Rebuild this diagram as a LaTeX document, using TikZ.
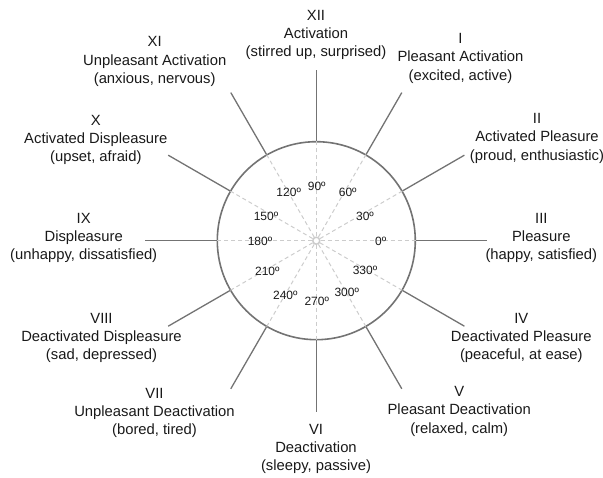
\documentclass[tikz,border=0pt]{standalone}
\usepackage{fontspec}
\setmainfont{Liberation Sans}
\begin{document}
\begin{tikzpicture}[x=1pt,y=1pt,
  lab/.style={align=center,font=\fontsize{14.8}{18.3}\selectfont,text=black!90,inner sep=0},
  deg/.style={font=\fontsize{12}{14}\selectfont,text=black!90,inner sep=0},
  spoke/.style={draw=black!55,line width=1.3},
  guide/.style={draw=black!20,dash pattern=on 4pt off 3pt,line width=1}]
\useasboundingbox (0,0) rectangle (603,478);
\coordinate (o) at (316.3,237.3);
\node[circle,draw=black!55,line width=1.6,minimum size=198,inner sep=0] (ring) at (o) {};
\node[circle,draw=black!20,line width=1.5,minimum size=7,inner sep=0] (hub) at (o) {};
\foreach \a in {0,30,...,330} {
  \path (o) ++(\a:171) coordinate (end\a);
  \draw[guide] (hub.\a) -- (ring.\a);
  \draw[spoke] (ring.\a) -- (end\a);
}
% degree labels
\node[deg] (d90)  at (316.7,291.3) {90º};
\node[deg] (d60)  at (347.7,285.7) {60º};
\node[deg] (d30)  at (365,262) {30º};
\node[deg] (d0)   at (380.7,236.3) {0º};
\node[deg] (d330) at (365,207.3) {330º};
\node[deg] (d300) at (346.7,185.3) {300º};
\node[deg] (d270) at (316.7,176.3) {270º};
\node[deg] (d240) at (285.3,183) {240º};
\node[deg] (d210) at (267.3,206.3) {210º};
\node[deg] (d180) at (260,236.3) {180º};
\node[deg] (d150) at (266,262) {150º};
\node[deg] (d120) at (288.7,285.7) {120º};
% octant labels
\node[lab] (l12) at (316,443) {XII\\Activation\\(stirred up, surprised)};
\node[lab] (l1)  at (460.5,419.7) {I\\Pleasant Activation\\(excited, active)};
\node[lab] (l2)  at (537,339.7) {II\\Activated Pleasure\\(proud, enthusiastic)};
\node[lab] (l3)  at (541.3,240) {III\\Pleasure\\(happy, satisfied)};
\node[lab] (l4)  at (521.3,140) {IV\\Deactivated Pleasure\\(peaceful, at ease)};
\node[lab] (l5)  at (459.2,66.7) {V\\Pleasant Deactivation\\(relaxed, calm)};
\node[lab] (l6)  at (316,29) {VI\\Deactivation\\(sleepy, passive)};
\node[lab] (l7)  at (154.5,65) {VII\\Unpleasant Deactivation\\(bored, tired)};
\node[lab] (l8)  at (101.5,140) {VIII\\Deactivated Displeasure\\(sad, depressed)};
\node[lab] (l9)  at (83.7,240) {IX\\Displeasure\\(unhappy, dissatisfied)};
\node[lab] (l10) at (95.8,338) {X\\Activated Displeasure\\(upset, afraid)};
\node[lab] (l11) at (154.7,416.3) {XI\\Unpleasant Activation\\(anxious, nervous)};
\end{tikzpicture}
\end{document}
